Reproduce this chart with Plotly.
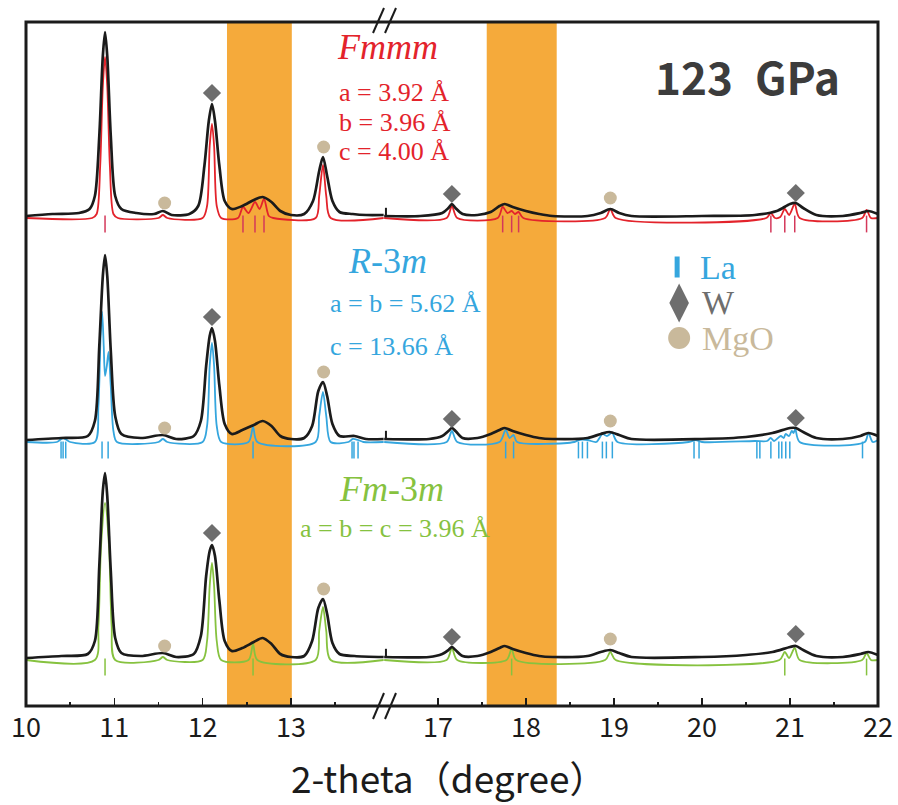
import plotly.graph_objects as go

# ---------------- data (2-theta in degrees, intensity in arbitrary units) ----------------
# Fmmm (top) experimental and calculated profiles
fmmm_obs = [(10.00, 490), (10.30, 492), (10.60, 493), (10.72, 497), (10.78, 510), (10.83, 570), (10.87, 650),
            (10.895, 674), (10.92, 650), (10.96, 570), (11.01, 510), (11.08, 497), (11.25, 493), (11.45, 492),
            (11.55, 495), (11.65, 491), (11.85, 492), (11.95, 500), (12.02, 540), (12.07, 585), (12.106, 602),
            (12.14, 585), (12.19, 540), (12.25, 505), (12.33, 497), (12.45, 500), (12.58, 506), (12.68, 509),
            (12.78, 504), (12.88, 495), (13.00, 491), (13.15, 492), (13.25, 505), (13.32, 535), (13.363, 549),
            (13.41, 530), (13.47, 505), (13.55, 494), (13.70, 492), (13.85, 491), (14.05, 491),
            (16.39, 490), (16.80, 490), (17.05, 493), (17.12, 498), (17.159, 502), (17.20, 498), (17.28, 492),
            (17.45, 491), (17.60, 494), (17.70, 500), (17.76, 502), (17.85, 499), (18.00, 495), (18.15, 492),
            (18.30, 490), (18.70, 490), (18.85, 493), (18.959, 497), (19.06, 493), (19.20, 490), (20.00, 490),
            (20.60, 491), (20.85, 495), (21.00, 502), (21.066, 503), (21.15, 498), (21.30, 491), (21.60, 490),
            (21.80, 493), (21.89, 495), (22.00, 492)]
fmmm_calc = [(10.00, 488), (10.75, 488), (10.80, 492), (10.84, 540), (10.87, 620), (10.895, 649), (10.92, 620),
             (10.95, 540), (10.99, 492), (11.04, 488), (11.50, 488), (11.55, 491), (11.60, 488), (12.00, 488),
             (12.05, 500), (12.08, 560), (12.106, 582), (12.13, 560), (12.16, 500), (12.21, 488), (12.40, 488),
             (12.457, 499), (12.52, 493), (12.593, 504), (12.645, 497), (12.695, 507), (12.75, 490), (12.80, 488),
             (13.28, 488), (13.32, 510), (13.363, 541), (13.40, 510), (13.45, 488), (14.05, 488),
             (16.39, 488), (17.10, 488), (17.159, 500), (17.22, 488), (17.68, 488), (17.736, 499), (17.79, 493),
             (17.838, 495), (17.875, 492), (17.917, 494), (17.97, 488), (18.90, 488), (18.959, 497), (19.02, 488),
             (20.73, 488), (20.783, 493), (20.83, 488), (20.89, 489), (20.941, 497), (20.99, 491), (21.054, 502),
             (21.11, 488), (21.82, 488), (21.87, 496), (21.92, 488), (22.00, 488)]
fmmm_ticks = [10.895, 12.457, 12.593, 12.695, 17.736, 17.838, 17.917, 20.783, 20.941, 21.054, 21.87]

# R-3m (middle)
r3m_obs = [(10.00, 266), (10.40, 268), (10.70, 270), (10.78, 285), (10.83, 360), (10.87, 430), (10.895, 451),
           (10.92, 430), (10.96, 355), (11.01, 290), (11.08, 272), (11.30, 268), (11.55, 271), (11.70, 267),
           (11.90, 270), (11.98, 285), (12.04, 340), (12.08, 370), (12.106, 378), (12.14, 365), (12.19, 320),
           (12.25, 282), (12.33, 272), (12.45, 276), (12.58, 281), (12.68, 285), (12.78, 280), (12.88, 270),
           (13.00, 267), (13.15, 268), (13.24, 280), (13.31, 315), (13.363, 324), (13.41, 310), (13.47, 282),
           (13.55, 270), (13.72, 270), (13.85, 267), (14.05, 267),
           (16.39, 267), (16.90, 267), (17.05, 270), (17.12, 275), (17.159, 278), (17.20, 275), (17.28, 268),
           (17.45, 268), (17.60, 272), (17.70, 276), (17.76, 278), (17.85, 275), (18.00, 271), (18.15, 268),
           (18.30, 267), (18.70, 268), (18.85, 272), (18.95, 274), (19.06, 271), (19.20, 267), (20.00, 267),
           (20.50, 269), (20.80, 273), (21.00, 278), (21.066, 278), (21.15, 274), (21.30, 268), (21.60, 267),
           (21.80, 270), (21.89, 273), (22.00, 270)]
r3m_calc = [(10.00, 264), (10.35, 264), (10.42, 268), (10.50, 264), (10.78, 264), (10.82, 300), (10.845, 370),
            (10.862, 394), (10.88, 360), (10.895, 330), (10.915, 340), (10.935, 354), (10.96, 320), (10.99, 275),
            (11.03, 264), (11.50, 264), (11.55, 267), (11.60, 264), (12.00, 264), (12.05, 280), (12.08, 340),
            (12.106, 363), (12.13, 340), (12.16, 280), (12.21, 264), (12.52, 264), (12.571, 279), (12.62, 264),
            (13.28, 264), (13.32, 290), (13.363, 314), (13.40, 290), (13.45, 264), (13.65, 264), (13.70, 267),
            (13.76, 266), (13.82, 264), (14.05, 264),
            (16.39, 264), (17.10, 264), (17.159, 275), (17.22, 264), (17.70, 264), (17.77, 276), (17.815, 268),
            (17.86, 271), (17.90, 264), (18.55, 264), (18.60, 266), (18.70, 266), (18.80, 264), (18.87, 272),
            (18.92, 270), (18.98, 273), (19.04, 264), (19.85, 264), (19.93, 266), (20.00, 264), (20.60, 265),
            (20.74, 265), (20.78, 268), (20.82, 265), (20.895, 270), (20.93, 268), (20.95, 272), (20.99, 270),
            (21.02, 275), (21.04, 273), (21.06, 277), (21.11, 264), (21.85, 264), (21.89, 273), (21.94, 264),
            (22.00, 266)]
r3m_ticks = [10.397, 10.42, 10.45, 10.861, 10.93, 12.571, 13.692, 13.714, 13.76, 17.77, 17.86, 18.597, 18.642,
             18.699, 18.869, 18.914, 18.982, 19.91, 19.967, 20.624, 20.658, 20.783, 20.873, 20.907, 20.952,
             20.998, 21.824]

# Fm-3m (bottom)
fm3m_obs = [(10.00, 48), (10.40, 50), (10.70, 52), (10.78, 65), (10.83, 140), (10.87, 215), (10.895, 233),
            (10.92, 210), (10.96, 135), (11.01, 68), (11.08, 53), (11.30, 50), (11.55, 53), (11.70, 49),
            (11.90, 52), (11.98, 70), (12.04, 130), (12.08, 155), (12.106, 161), (12.14, 150), (12.19, 105),
            (12.25, 65), (12.33, 55), (12.45, 58), (12.58, 64), (12.68, 68), (12.78, 62), (12.88, 52),
            (13.00, 49), (13.15, 50), (13.24, 65), (13.31, 98), (13.363, 107), (13.41, 92), (13.47, 63),
            (13.55, 52), (13.72, 50), (14.05, 49),
            (16.39, 49), (16.90, 49), (17.05, 52), (17.12, 56), (17.159, 59), (17.20, 56), (17.28, 50),
            (17.45, 50), (17.60, 54), (17.70, 58), (17.76, 60), (17.85, 57), (18.00, 53), (18.15, 50),
            (18.30, 49), (18.70, 50), (18.85, 54), (18.959, 56), (19.06, 53), (19.20, 49), (20.00, 49),
            (20.50, 51), (20.80, 54), (21.00, 59), (21.066, 60), (21.15, 56), (21.30, 50), (21.60, 49),
            (21.80, 52), (21.89, 54), (22.00, 51)]
fm3m_calc = [(10.00, 46), (10.78, 46), (10.82, 80), (10.85, 160), (10.895, 203), (10.94, 160), (10.97, 80),
             (11.01, 46), (11.50, 46), (11.55, 49), (11.60, 46), (12.00, 46), (12.05, 65), (12.08, 120),
             (12.106, 143), (12.13, 120), (12.16, 65), (12.21, 46), (12.52, 46), (12.571, 62), (12.62, 46),
             (13.28, 46), (13.32, 75), (13.363, 99), (13.40, 75), (13.45, 46), (14.05, 46),
             (16.39, 46), (17.10, 46), (17.159, 58), (17.22, 46), (17.78, 46), (17.838, 57), (17.89, 46),
             (18.90, 46), (18.959, 54), (19.02, 46), (20.88, 46), (20.941, 54), (20.99, 48), (21.054, 58),
             (21.11, 46), (21.82, 46), (21.87, 53), (21.92, 46), (22.00, 46)]
fm3m_ticks = [10.895, 12.571, 17.838, 20.941, 21.87]

# Phase markers: W (diamond) and MgO (circle) positions and marker heights per pattern
w_pos = [12.106, 17.159, 21.066]
mgo_pos = [11.57, 13.37, 18.959]
w_height = {"Fmmm": [613, 512, 513], "R-3m": [389, 287, 288], "Fm-3m": [173, 69, 72]}
mgo_height = {"Fmmm": [503, 559, 508], "R-3m": [278, 334, 285], "Fm-3m": [60, 117, 67]}
tick_level = {"Fmmm": 482, "R-3m": 256, "Fm-3m": 39}
obs_base = {"Fmmm": 494, "R-3m": 271, "Fm-3m": 53}

x_major_left = [10, 11, 12, 13]
x_major_right = [17, 18, 19, 20, 21, 22]
x_minor_left = [10.5, 11.5, 12.5, 13.5]
x_minor_right = [17.5, 18.5, 19.5, 20.5, 21.5]
bands_left = [(12.276, 13.01)]
bands_right = [(17.555, 18.35)]

# ---------------- styling ----------------
RED = "#e3232b"
BLUE = "#35a6de"
GREEN = "#86c23f"
ORANGE = "#f5aa3b"
TAN = "#c9b99b"
GRAY = "#6e6e6e"
BLACK = "#1b1b1b"
SERIF = "Liberation Serif, Times New Roman, serif"
CJK = "Noto Sans CJK SC, sans-serif"

FIG_W, FIG_H = 898, 805
PLOT_L, PLOT_R, PLOT_T, PLOT_B = 26, 878, 22, 706  # plot area in page pixels
SPLIT = 0.4202


def px(xp, yp):
    """page pixel -> paper coordinates"""
    return (xp - PLOT_L) / (PLOT_R - PLOT_L), (PLOT_B - yp) / (PLOT_B - PLOT_T)


def split(points):
    left = [p for p in points if p[0] < 15]
    right = [p for p in points if p[0] >= 15]
    return left, right


fig = go.Figure()

patterns = [
    ("Fmmm", fmmm_obs, fmmm_calc, fmmm_ticks, RED, "#d4385a"),
    ("R-3m", r3m_obs, r3m_calc, r3m_ticks, BLUE, BLUE),
    ("Fm-3m", fm3m_obs, fm3m_calc, fm3m_ticks, GREEN, GREEN),
]

for name, obs, calc, ticks, col, tcol in patterns:
    for pts, color, width in ((calc, col, 1.8), (obs, BLACK, 2.7)):
        for seg, xa in zip(split(pts), ("x", "x2")):
            fig.add_trace(go.Scatter(
                x=[p[0] for p in seg], y=[p[1] for p in seg], xaxis=xa, yaxis="y",
                mode="lines", line=dict(color=color, width=width, shape="spline", smoothing=0.8),
                showlegend=False, hoverinfo="skip"))
    tl = [t for t in ticks if t < 15]
    tr = [t for t in ticks if t >= 15]
    for tt, xa in ((tl, "x"), (tr, "x2")):
        fig.add_trace(go.Scatter(
            x=tt, y=[tick_level[name]] * len(tt), xaxis=xa, yaxis="y", mode="markers",
            marker=dict(symbol="line-ns", size=12, line=dict(color=tcol, width=1.5)),
            showlegend=False, hoverinfo="skip"))
    # small break indicator on the curve
    fig.add_trace(go.Scatter(
        x=[16.41], y=[obs_base[name]], xaxis="x2", yaxis="y", mode="markers",
        marker=dict(symbol="line-ns", size=6, line=dict(color=BLACK, width=2)),
        showlegend=False, hoverinfo="skip"))
    # phase markers
    for xs, ys, sym, mcol, size in ((w_pos, w_height[name], "diamond", GRAY, 14),
                                    (mgo_pos, mgo_height[name], "circle", TAN, 13)):
        pl = [(a, b) for a, b in zip(xs, ys) if a < 15]
        pr = [(a, b) for a, b in zip(xs, ys) if a >= 15]
        for seg, xa in ((pl, "x"), (pr, "x2")):
            fig.add_trace(go.Scatter(
                x=[p[0] for p in seg], y=[p[1] for p in seg], xaxis=xa, yaxis="y", mode="markers",
                marker=dict(symbol=sym, size=size, color=mcol, line=dict(width=0)),
                showlegend=False, hoverinfo="skip"))

# legend keys (drawn on the right axis)
fig.add_trace(go.Scatter(x=[19.718], y=[439], xaxis="x2", yaxis="y", mode="markers",
                         marker=dict(symbol="line-ns", size=15, line=dict(color=BLUE, width=5)),
                         showlegend=False, hoverinfo="skip"))
fig.add_trace(go.Scatter(x=[19.741], y=[403], xaxis="x2", yaxis="y", mode="markers",
                         marker=dict(symbol="diamond-tall", size=28, color=GRAY),
                         showlegend=False, hoverinfo="skip"))
fig.add_trace(go.Scatter(x=[19.741], y=[368], xaxis="x2", yaxis="y", mode="markers",
                         marker=dict(symbol="circle", size=22, color=TAN),
                         showlegend=False, hoverinfo="skip"))

shapes = []
for x0, x1 in bands_left:
    shapes.append(dict(type="rect", xref="x", yref="paper", x0=x0, x1=x1, y0=0, y1=1,
                       fillcolor=ORANGE, line=dict(width=0), layer="below"))
for x0, x1 in bands_right:
    shapes.append(dict(type="rect", xref="x2", yref="paper", x0=x0, x1=x1, y0=0, y1=1,
                       fillcolor=ORANGE, line=dict(width=0), layer="below"))
shapes.append(dict(type="rect", xref="paper", yref="paper", x0=0, x1=1, y0=0, y1=1,
                   line=dict(color=BLACK, width=3), layer="above"))
for (ax, ay, bx, by) in ((373, 33, 384, 8), (385, 33, 396, 8), (373, 719, 384, 693), (385, 719, 396, 693)):
    x0, y0 = px(ax, ay)
    x1, y1 = px(bx, by)
    shapes.append(dict(type="line", xref="paper", yref="paper", x0=x0, y0=y0, x1=x1, y1=y1,
                       line=dict(color=BLACK, width=2)))

ann = []


def text(t, xpx, ypx, color, size, family=SERIF, xanchor="left", weight=None):
    xp, yp = px(xpx, ypx)
    f = dict(color=color, size=size, family=family)
    if weight:
        f["weight"] = weight
    ann.append(dict(text=t, x=xp, y=yp, xref="paper", yref="paper", xanchor=xanchor, yanchor="middle",
                    showarrow=False, font=f))


text("<i>Fmmm</i>", 387, 47, RED, 36, xanchor="center")
text("a = 3.92 Å", 337, 92, RED, 26)
text("b = 3.96 Å", 337, 122, RED, 26)
text("c = 4.00 Å", 337, 151, RED, 26)
text("<i>R</i>-3<i>m</i>", 387, 261, BLUE, 36, xanchor="center")
text("a = b = 5.62 Å", 328, 303, BLUE, 26)
text("c = 13.66 Å", 328, 346, BLUE, 26)
text("<i>Fm</i>-3<i>m</i>", 391, 489, GREEN, 36, xanchor="center")
text("a = b = c = 3.96 Å", 298, 528, GREEN, 26)
text("123\u2002GPa", 747, 76, "#3c3c3c", 44, family=CJK, xanchor="center", weight="bold")
text("La", 698, 267, BLUE, 34)
text("W", 700, 302, GRAY, 34)
text("MgO", 700, 338, TAN, 34)
text("2-theta（degree）", 449, 777, BLACK, 37, family=CJK, xanchor="center")

axis_common = dict(ticks="inside", ticklen=8, tickwidth=1.5, tickcolor=BLACK, showgrid=False,
                   zeroline=False, showline=False, tickfont=dict(family=CJK, size=27, color=BLACK),
                   ticklabelstandoff=3, fixedrange=True, automargin=False)

fig.update_layout(
    width=FIG_W, height=FIG_H,
    margin=dict(l=PLOT_L, r=FIG_W - PLOT_R, t=PLOT_T, b=FIG_H - PLOT_B, autoexpand=False),
    paper_bgcolor="white", plot_bgcolor="white",
    xaxis=dict(domain=[0, SPLIT], range=[10.0, 14.054], tickmode="array", tickvals=x_major_left,
               ticktext=[str(v) for v in x_major_left], anchor="y",
               minor=dict(tickmode="array", tickvals=x_minor_left, ticks="inside", ticklen=4,
                          tickwidth=1.5, tickcolor=BLACK), **axis_common),
    xaxis2=dict(domain=[SPLIT, 1], range=[16.388, 22.0], tickmode="array", tickvals=x_major_right,
                ticktext=[str(v) for v in x_major_right], anchor="y",
                minor=dict(tickmode="array", tickvals=x_minor_right, ticks="inside", ticklen=4,
                           tickwidth=1.5, tickcolor=BLACK), **axis_common),
    yaxis=dict(range=[0, 684], showticklabels=False, ticks="", showgrid=False, zeroline=False,
               showline=False, fixedrange=True),
    shapes=shapes, annotations=ann, showlegend=False,
)

# remove the default page margin so the figure fills the 898x805 window exactly
fig.write_html("out.html", config={"displayModeBar": False, "staticPlot": True},
               post_script="document.body.style.margin='0px';document.body.style.overflow='hidden';")
